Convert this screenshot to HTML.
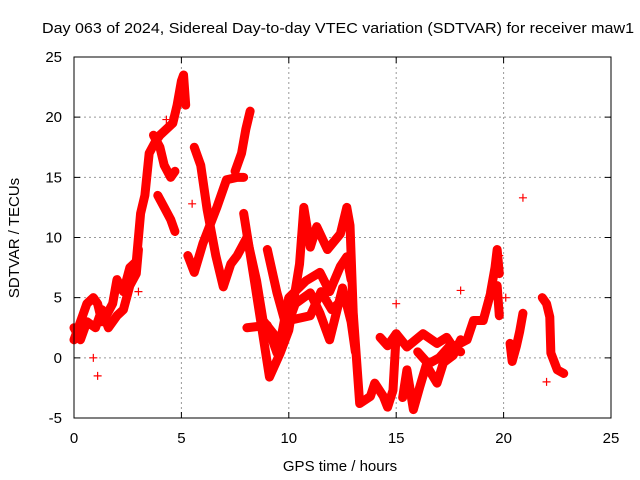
<!DOCTYPE html>
<html><head><meta charset="utf-8"><style>
html,body{margin:0;padding:0;background:#fff}
svg{display:block;font-family:"Liberation Sans",sans-serif}
</style></head><body>
<svg id="chart" width="640" height="480" viewBox="0 0 640 480">
<text x="42" y="33" font-size="15" textLength="592" lengthAdjust="spacingAndGlyphs">Day 063 of 2024, Sidereal Day-to-day VTEC variation (SDTVAR) for receiver maw1</text>
<g id="grid"></g>
<g id="axes"></g>
<g id="series"></g>
<rect x="74" y="57" width="537" height="361" fill="none" stroke="#000" stroke-width="1"/>
<text x="340" y="471" font-size="15" text-anchor="middle">GPS time / hours</text>
<text transform="translate(19,238) rotate(-90)" font-size="15" text-anchor="middle">SDTVAR / TECUs</text>
</svg>
<script>
const xTicks=[0,5,10,15,20,25];
const yTicks=[-5,0,5,10,15,20,25];
const traceA_t=[0,0.2,0.4,0.6,0.9,1.1,1.3,1.5,1.8,2.0,2.3,2.6,2.9,3.1,3.3,3.5,3.8,4.0,4.3,4.6,4.8,5.0,5.1,5.2];
const traceA_v=[1.5,2.5,3.5,4.5,5.0,4.5,3.0,3.5,4.5,6.5,5.5,7.5,8.0,12.0,13.5,17.0,18.0,18.5,19.0,19.5,21.0,23.0,23.5,21.0];
const traceO_t=[0,0.3,0.6,1.0,1.3,1.6,2.0,2.3,2.6,2.9,3.0];
const traceO_v=[2.5,1.5,3.0,2.5,4.0,2.5,3.5,4.0,6.0,7.0,9.0];
const traceB_t=[3.7,4.0,4.2,4.5,4.7];
const traceB_v=[18.5,17.5,16.0,15.0,15.5];
const traceC_t=[3.9,4.2,4.5,4.7];
const traceC_v=[13.5,12.5,11.5,10.5];
const traceD_t=[5.6,5.9,6.2,6.6,6.95,7.3,7.6,8.05,8.5,8.8,9.6,10.0,10.8,11.45,11.9,12.4,12.7,12.9];
const traceD_v=[17.5,16.0,12.3,8.5,5.9,7.8,8.5,10.0,6.4,3.1,1.3,5.0,6.4,7.1,5.5,7.6,8.4,6.5];
const traceE_t=[5.3,5.6,6.0,6.65,7.1,7.6,7.9];
const traceE_v=[8.5,7.1,9.5,12.5,14.8,15.0,15.0];
const traceF_t=[7.5,7.8,8.0,8.2];
const traceF_v=[15.5,17.0,19.0,20.5];
const traceG_t=[7.9,8.4,9.1,9.6,10.0,10.5,10.7,11.0,11.3,11.8,12.4,12.7,12.85,13.0,13.3,13.8,14.0,14.4,14.6,14.85,15.0];
const traceG_v=[12.0,6.4,-1.6,0.4,2.3,7.8,12.5,9.2,10.9,9.0,10.3,12.5,11.0,3.7,-3.8,-3.2,-2.1,-3.2,-4.1,-2.7,2.0];
const traceH_t=[9.0,9.45,9.9,10.3,11.0,11.45,11.9,12.5,12.9,13.1];
const traceH_v=[9.0,5.4,2.5,4.5,5.4,3.7,1.5,5.8,3.0,0.5];
const traceI_t=[8.05,9.0,9.45,10.0,11.0,11.5,12.0,12.6,13.0];
const traceI_v=[2.5,2.7,0.4,3.1,3.5,5.5,4.0,5.0,3.5];
const traceJ_t=[14.25,14.6,15.0,15.5,16.25,16.9,17.35,17.65,18.3,18.6,19.05,19.4,19.7,19.8];
const traceJ_v=[1.7,1.0,2.0,0.9,2.0,1.2,1.7,0.9,1.5,3.1,3.1,5.4,6.0,3.5];
const traceK_t=[15.3,15.5,15.8,16.1,16.4,16.9,17.2,17.65,18.0];
const traceK_v=[-3.3,-1.0,-4.3,-2.4,-0.6,-2.1,-0.4,0.2,1.5];
const traceP_t=[16.0,16.5,17.0,17.5,18.0];
const traceP_v=[0.5,-0.5,0.0,1.0,0.5];
const traceL_t=[19.4,19.6,19.7,19.8];
const traceL_v=[5.5,7.5,9.0,7.0];
const traceM_t=[20.3,20.4,20.6,20.75,20.9];
const traceM_v=[1.2,-0.3,1.0,2.2,3.7];
const traceN_t=[21.8,22.0,22.15,22.2,22.5,22.8];
const traceN_v=[5.0,4.5,3.4,0.4,-1.0,-1.3];
const isoT=[20.9,4.3,18.0,19.8,22.0,20.1,0.9,5.5,15.0,1.1,1.5,3.0];
const isoV=[13.3,19.8,5.6,8.5,-2.0,5.0,0.0,12.8,4.5,-1.5,3.0,5.5];
const X=h=>74+h*(537/25);
const Y=v=>418-(v+5)*(361/30);
const NS='http://www.w3.org/2000/svg';
const grid=document.getElementById('grid'),axes=document.getElementById('axes'),ser=document.getElementById('series');
function mk(tag,attrs,parent){const e=document.createElementNS(NS,tag);for(const k in attrs)e.setAttribute(k,attrs[k]);parent.appendChild(e);return e;}
xTicks.forEach(t=>{
 if(t>0&&t<25){const g=mk('line',{x1:X(t),x2:X(t),y1:57,y2:418,stroke:'#999','stroke-dasharray':'2,3'},grid);
 
 }
 const tk=mk('path',{d:`M${X(t)},418v-6M${X(t)},57v6`,stroke:'#000'},axes);
 
 
 const l=mk('text',{x:X(t),y:443,'font-size':15,'text-anchor':'middle'},axes);l.textContent=t;
 
 
});
yTicks.forEach(t=>{
 if(t>-5&&t<25){const g=mk('line',{x1:74,x2:611,y1:Y(t),y2:Y(t),stroke:'#999','stroke-dasharray':'2,3'},grid);
 
 }
 const tk=mk('path',{d:`M74,${Y(t)}h6M611,${Y(t)}h-6`,stroke:'#000'},axes);
 
 
 const l=mk('text',{x:62,y:Y(t)+5,'font-size':15,'text-anchor':'end'},axes);l.textContent=t;
 
 
});
const traces=[[traceA_t,traceA_v],[traceO_t,traceO_v],[traceB_t,traceB_v],[traceC_t,traceC_v],[traceD_t,traceD_v],[traceE_t,traceE_v],[traceF_t,traceF_v],[traceG_t,traceG_v],[traceH_t,traceH_v],[traceI_t,traceI_v],[traceJ_t,traceJ_v],[traceK_t,traceK_v],[traceP_t,traceP_v],[traceL_t,traceL_v],[traceM_t,traceM_v],[traceN_t,traceN_v]];
function plus(x,y){return `M${x-4},${y}h8M${x},${y-4}v8`;}
traces.forEach(tr=>{
 const pts=tr[0].map((t,j)=>X(t)+','+Y(tr[1][j])).join(' ');
 const pl=mk('polyline',{points:pts,fill:'none',stroke:'#f00','stroke-width':9,'stroke-linejoin':'round','stroke-linecap':'round'},ser);
 
 
 let d='';tr[0].forEach((t,j)=>{d+=plus(X(t),Y(tr[1][j]));});
 const m=mk('path',{d:d,stroke:'#f00','stroke-width':1.2},ser);
 
 
});
let di='';isoT.forEach((t,j)=>{di+=plus(X(t),Y(isoV[j]));});
const iso=mk('path',{d:di,stroke:'#f00','stroke-width':1.2},ser);


</script>
</body></html>
